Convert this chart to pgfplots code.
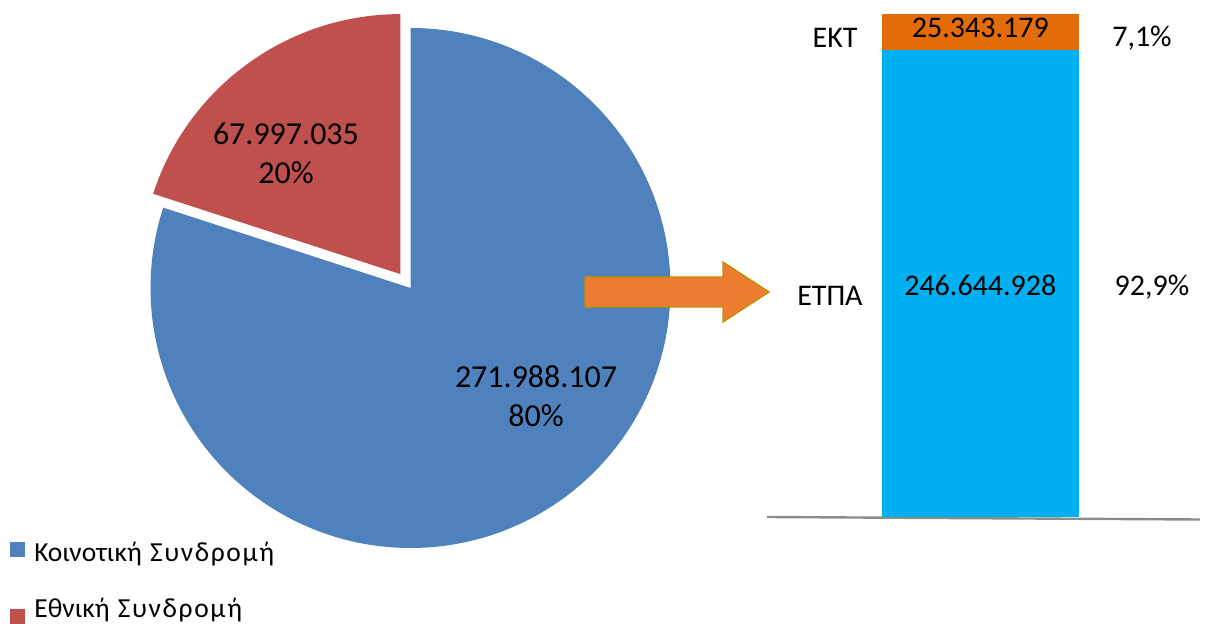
\documentclass[border=0pt]{standalone}
\usepackage{fontspec}
\setmainfont{Carlito}
\usepackage{pgfplots}
\pgfplotsset{compat=1.18}
\definecolor{pieblue}{HTML}{4F81BD}
\definecolor{piered}{HTML}{C0504D}
\definecolor{barblue}{HTML}{00B0F0}
\definecolor{barorange}{HTML}{E36C09}
\definecolor{arrowfill}{HTML}{ED7D31}
\definecolor{arrowdraw}{HTML}{BF9000}
\definecolor{axisgray}{HTML}{8C8C8C}
% values in millions
\def\vKoin{271.988107}
\def\vEthn{67.997035}
\tikzset{barfont/.style={font=\fontsize{15}{18}\selectfont}}
\begin{document}
\begin{tikzpicture}[x=0.5pt,y=0.5pt]
\path[use as bounding box] (0,0) rectangle (1210,624);
% ---------------- pie ----------------
\begin{axis}[at={(205.25pt,168pt)}, anchor=center, width=260pt, height=260pt,
  scale only axis, xmin=-1, xmax=1, ymin=-1, ymax=1, hide axis, clip=false]
\pgfmathsetmacro\fracK{\vKoin/(\vKoin+\vEthn)}
\pgfmathsetmacro\angK{360*\fracK}
\pgfmathsetmacro\endK{90-\angK}
\pgfmathsetmacro\startE{90+360-\angK}
\pgfmathsetmacro\midE{(\startE+90)/2}
\pgfmathsetmacro\ex{0.066*cos(\midE)}
\pgfmathsetmacro\ey{0.066*sin(\midE)}
\fill[pieblue] (axis cs:0,0) -- ++(90:130pt) arc[start angle=90, end angle=\endK, radius=130pt] -- cycle;
\fill[piered] (axis cs:\ex,\ey) -- ++(\startE:130pt) arc[start angle=\startE, end angle=90, radius=130pt] -- cycle;
\node[align=center, font=\fontsize{16}{19.5}\selectfont] at (axis cs:-0.479,0.517) {67.997.035\\20\%};
\node[align=center, font=\fontsize{16}{19.5}\selectfont] at (axis cs:0.483,-0.417) {271.988.107\\80\%};
\end{axis}
% ---------------- arrow ----------------
\filldraw[fill=arrowfill, draw=arrowdraw, line width=0.7pt, line join=miter]
  (585,624-277) -- (723,624-277) -- (723,624-262) -- (769,624-292) -- (723,624-322) -- (723,624-307) -- (585,624-307) -- cycle;
% ---------------- stacked bar ----------------
\begin{axis}[at={(383.5pt,53.5pt)}, anchor=south west, width=216.5pt, height=251.5pt,
  scale only axis, xmin=-1, xmax=1.03, ymin=0, ymax=100,
  ybar stacked, bar width=0.9236, hide axis, clip=false]
\addplot[fill=barblue, draw=none] coordinates {(0,92.9)};
\addplot[fill=barorange, draw=none] coordinates {(0,7.1)};
\draw[axisgray, line width=1.2pt] (axis cs:-1,0) -- (axis cs:1.03,-0.5);
\coordinate (lETPAv) at (axis cs:0,46.0);
\coordinate (lEKTv) at (axis cs:0,97.2);
\coordinate (lEKT) at (axis cs:-0.681,95.2);
\coordinate (lETPA) at (axis cs:-0.705,43.9);
\coordinate (pEKT) at (axis cs:0.758,95.2);
\coordinate (pETPA) at (axis cs:0.805,45.7);
\end{axis}
\node[barfont] at (lETPAv) {246.644.928};
\node[barfont] at (lEKTv) {25.343.179};
\node[barfont] at (lEKT) {ΕΚΤ};
\node[barfont] at (lETPA) {ΕΤΠΑ};
\node[barfont] at (pEKT) {7,1\%};
\node[barfont] at (pETPA) {92,9\%};
% ---------------- legend ----------------
\fill[pieblue] (10,624-542) rectangle (25,624-557);
\fill[piered] (10,624-609) rectangle (25,624-624);
\node[anchor=base west, inner sep=0pt, font=\fontsize{13.75}{16}\selectfont] at (34,624-562) {Κοινοτική\hspace{0.3em}{\addfontfeature{LetterSpace=6}Συνδρομή}};
\node[anchor=base west, inner sep=0pt, font=\fontsize{13.75}{16}\selectfont] at (34,624-618) {Εθνική\hspace{0.3em}{\addfontfeature{LetterSpace=6}Συνδρομή}};
\end{tikzpicture}
\end{document}
